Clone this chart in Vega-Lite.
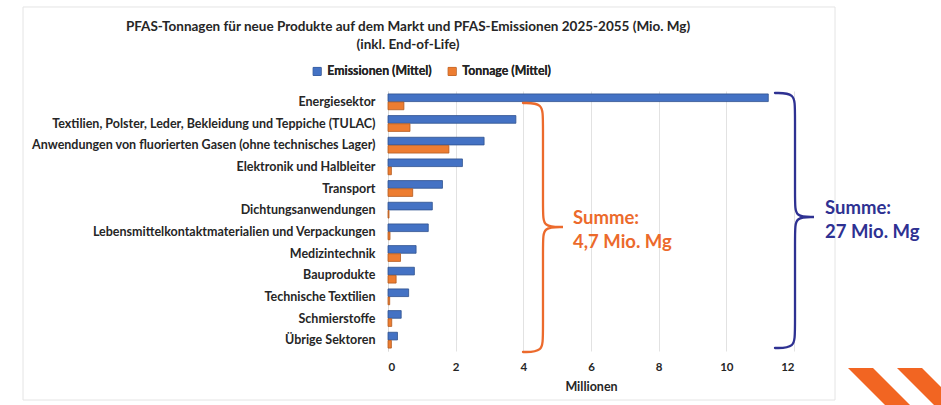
{
  "$schema": "https://vega.github.io/schema/vega-lite/v6.json",
  "width": 406,
  "height": 260,
  "autosize": {"type": "none"},
  "padding": {"left": 388, "top": 91, "right": 147, "bottom": 54},
  "background": "white",
  "title": {
    "text": ["PFAS-Tonnagen für neue Produkte auf dem Markt und PFAS-Emissionen 2025-2055 (Mio. Mg)", "(inkl. End-of-Life)"],
    "anchor": "middle",
    "frame": "group",
    "dx": -183,
    "offset": -45,
    "font": "Lato",
    "fontWeight": "bold",
    "fontSize": 13.5,
    "lineHeight": 18,
    "color": "#262626"
  },
  "datasets": {
    "bars": [
      {"sektor": "Energiesektor", "serie": "Emissionen (Mittel)", "wert": 11.24},
      {"sektor": "Energiesektor", "serie": "Tonnage (Mittel)", "wert": 0.47},
      {"sektor": "Textilien, Polster, Leder, Bekleidung und Teppiche (TULAC)", "serie": "Emissionen (Mittel)", "wert": 3.78},
      {"sektor": "Textilien, Polster, Leder, Bekleidung und Teppiche (TULAC)", "serie": "Tonnage (Mittel)", "wert": 0.65},
      {"sektor": "Anwendungen von fluorierten Gasen (ohne technisches Lager)", "serie": "Emissionen (Mittel)", "wert": 2.84},
      {"sektor": "Anwendungen von fluorierten Gasen (ohne technisches Lager)", "serie": "Tonnage (Mittel)", "wert": 1.8},
      {"sektor": "Elektronik und Halbleiter", "serie": "Emissionen (Mittel)", "wert": 2.2},
      {"sektor": "Elektronik und Halbleiter", "serie": "Tonnage (Mittel)", "wert": 0.1},
      {"sektor": "Transport", "serie": "Emissionen (Mittel)", "wert": 1.61},
      {"sektor": "Transport", "serie": "Tonnage (Mittel)", "wert": 0.73},
      {"sektor": "Dichtungsanwendungen", "serie": "Emissionen (Mittel)", "wert": 1.31},
      {"sektor": "Dichtungsanwendungen", "serie": "Tonnage (Mittel)", "wert": 0.03},
      {"sektor": "Lebensmittelkontaktmaterialien und Verpackungen", "serie": "Emissionen (Mittel)", "wert": 1.19},
      {"sektor": "Lebensmittelkontaktmaterialien und Verpackungen", "serie": "Tonnage (Mittel)", "wert": 0.06},
      {"sektor": "Medizintechnik", "serie": "Emissionen (Mittel)", "wert": 0.83},
      {"sektor": "Medizintechnik", "serie": "Tonnage (Mittel)", "wert": 0.37},
      {"sektor": "Bauprodukte", "serie": "Emissionen (Mittel)", "wert": 0.78},
      {"sektor": "Bauprodukte", "serie": "Tonnage (Mittel)", "wert": 0.24},
      {"sektor": "Technische Textilien", "serie": "Emissionen (Mittel)", "wert": 0.61},
      {"sektor": "Technische Textilien", "serie": "Tonnage (Mittel)", "wert": 0.05},
      {"sektor": "Schmierstoffe", "serie": "Emissionen (Mittel)", "wert": 0.39},
      {"sektor": "Schmierstoffe", "serie": "Tonnage (Mittel)", "wert": 0.11},
      {"sektor": "Übrige Sektoren", "serie": "Emissionen (Mittel)", "wert": 0.28},
      {"sektor": "Übrige Sektoren", "serie": "Tonnage (Mittel)", "wert": 0.1}
    ],
    "braces": [
      {"klammer": "tonnage", "i": 1, "x": 3.990, "r": 0.554},
      {"klammer": "tonnage", "i": 2, "x": 4.581, "r": 0.554},
      {"klammer": "tonnage", "i": 3, "x": 4.581, "r": 1.338},
      {"klammer": "tonnage", "i": 4, "x": 4.581, "r": 5.585},
      {"klammer": "tonnage", "i": 5, "x": 4.581, "r": 6.277},
      {"klammer": "tonnage", "i": 6, "x": 5.172, "r": 6.277},
      {"klammer": "tonnage", "i": 7, "x": 5.172, "r": 6.277},
      {"klammer": "tonnage", "i": 8, "x": 5.172, "r": 6.277},
      {"klammer": "tonnage", "i": 9, "x": 4.581, "r": 6.277},
      {"klammer": "tonnage", "i": 10, "x": 4.581, "r": 6.969},
      {"klammer": "tonnage", "i": 11, "x": 4.581, "r": 11.262},
      {"klammer": "tonnage", "i": 12, "x": 4.581, "r": 12.046},
      {"klammer": "tonnage", "i": 13, "x": 3.990, "r": 12.046},
      {"klammer": "emission", "i": 1, "x": 11.438, "r": 0.092},
      {"klammer": "emission", "i": 2, "x": 12.030, "r": 0.092},
      {"klammer": "emission", "i": 3, "x": 12.030, "r": 0.877},
      {"klammer": "emission", "i": 4, "x": 12.030, "r": 5.123},
      {"klammer": "emission", "i": 5, "x": 12.030, "r": 5.815},
      {"klammer": "emission", "i": 6, "x": 12.591, "r": 5.815},
      {"klammer": "emission", "i": 7, "x": 12.591, "r": 5.815},
      {"klammer": "emission", "i": 8, "x": 12.591, "r": 5.815},
      {"klammer": "emission", "i": 9, "x": 12.030, "r": 5.815},
      {"klammer": "emission", "i": 10, "x": 12.030, "r": 6.508},
      {"klammer": "emission", "i": 11, "x": 12.030, "r": 11.077},
      {"klammer": "emission", "i": 12, "x": 12.030, "r": 11.862},
      {"klammer": "emission", "i": 13, "x": 11.438, "r": 11.862}
    ],
    "labels": [
      {"klammer": "tonnage", "t": "Summe:", "x": 5.468, "r": 5.862},
      {"klammer": "tonnage", "t": "4,7 Mio. Mg", "x": 5.468, "r": 6.969},
      {"klammer": "emission", "t": "Summe:", "x": 12.916, "r": 5.400},
      {"klammer": "emission", "t": "27 Mio. Mg", "x": 12.916, "r": 6.508}
    ],
    "frame": [
      {"x1": -10.788, "x2": 13.212, "r1": -3.877, "r2": 14.262}
    ],
    "deko": [
      {"x": 14.852, "r": 14.746},
      {"x": 16.300, "r": 14.746}
    ]
  },
  "layer": [
    {
      "data": {"name": "frame"},
      "mark": {"type": "rect", "fill": null, "stroke": "#e4e4e4", "strokeWidth": 1},
      "encoding": {
        "x": {"field": "x1", "type": "quantitative", "scale": {"domain": [0, 12], "nice": false}},
        "x2": {"field": "x2"},
        "y": {"field": "r1", "type": "quantitative", "scale": {"domain": [0, 12], "reverse": true, "nice": false, "zero": false}, "axis": null},
        "y2": {"field": "r2"}
      }
    },
    {
      "data": {"name": "bars"},
      "mark": {"type": "bar", "strokeWidth": 0.8},
      "encoding": {
        "y": {
          "field": "sektor", "type": "nominal", "sort": null,
          "scale": {"paddingInner": 0.27, "paddingOuter": 0.135},
          "axis": {"title": null, "ticks": false, "labelPadding": 13, "labelFont": "Lato", "labelFontWeight": "bold", "labelFontSize": 12.5, "labelColor": "#262626", "domain": true, "domainColor": "#d9d9d9", "labelLimit": 400}
        },
        "yOffset": {"field": "serie", "type": "nominal", "sort": ["Emissionen (Mittel)", "Tonnage (Mittel)"], "scale": {"paddingInner": 0.06}},
        "x": {
          "field": "wert", "type": "quantitative",
          "scale": {"domain": [0, 12], "nice": false},
          "axis": {"values": [0, 2, 4, 6, 8, 10, 12], "grid": true, "gridColor": "#e2e2e2", "domain": false, "ticks": false, "labelPadding": 10, "labelFont": "Lato", "labelFontWeight": "bold", "labelFontSize": 11.5, "labelColor": "#262626", "title": "Millionen", "titleFont": "Lato", "titleFontWeight": "bold", "titleFontSize": 12.5, "titleColor": "#262626", "titlePadding": 8}
        },
        "color": {
          "field": "serie", "type": "nominal",
          "scale": {"domain": ["Emissionen (Mittel)", "Tonnage (Mittel)"], "range": ["#4472C4", "#ED7D31"]},
          "legend": {"title": null, "orient": "none", "legendX": -77, "legendY": -26, "direction": "horizontal", "labelFontSize": 12.3}
        },
        "stroke": {
          "field": "serie", "type": "nominal",
          "scale": {"domain": ["Emissionen (Mittel)", "Tonnage (Mittel)"], "range": ["#2F528F", "#B35A1F"]},
          "legend": {"title": null, "orient": "none", "legendX": -77, "legendY": -26, "direction": "horizontal", "labelFontSize": 12.3}
        }
      }
    },
    {
      "data": {"name": "braces"},
      "transform": [{"filter": "datum.klammer === 'tonnage'"}],
      "mark": {"type": "line", "interpolate": "basis", "color": "#EC6A2C", "strokeWidth": 2.3, "strokeCap": "round"},
      "encoding": {
        "x": {"field": "x", "type": "quantitative", "scale": {"domain": [0, 12], "nice": false}},
        "y": {"field": "r", "type": "quantitative", "scale": {"domain": [0, 12], "reverse": true, "nice": false, "zero": false}, "axis": null},
        "order": {"field": "i", "type": "quantitative"}
      }
    },
    {
      "data": {"name": "braces"},
      "transform": [{"filter": "datum.klammer === 'emission'"}],
      "mark": {"type": "line", "interpolate": "basis", "color": "#2E3192", "strokeWidth": 2.3, "strokeCap": "round"},
      "encoding": {
        "x": {"field": "x", "type": "quantitative", "scale": {"domain": [0, 12], "nice": false}},
        "y": {"field": "r", "type": "quantitative", "scale": {"domain": [0, 12], "reverse": true, "nice": false, "zero": false}, "axis": null},
        "order": {"field": "i", "type": "quantitative"}
      }
    },
    {
      "data": {"name": "labels"},
      "mark": {"type": "text", "align": "left", "baseline": "middle", "font": "Lato", "fontWeight": "bold", "fontSize": 18.5},
      "encoding": {
        "x": {"field": "x", "type": "quantitative", "scale": {"domain": [0, 12], "nice": false}},
        "y": {"field": "r", "type": "quantitative", "scale": {"domain": [0, 12], "reverse": true, "nice": false, "zero": false}, "axis": null},
        "text": {"field": "t"},
        "color": {"condition": {"test": "datum.klammer === 'tonnage'", "value": "#EC6A2C"}, "value": "#2E3192"}
      }
    },
    {
      "data": {"name": "deko"},
      "mark": {"type": "point", "shape": "M-1,-1L-0.412,-1L1,0.412L0.412,0.412Z", "size": 7225, "filled": true, "color": "#F26522", "opacity": 1, "strokeWidth": 0},
      "encoding": {
        "x": {"field": "x", "type": "quantitative", "scale": {"domain": [0, 12], "nice": false}},
        "y": {"field": "r", "type": "quantitative", "scale": {"domain": [0, 12], "reverse": true, "nice": false, "zero": false}, "axis": null}
      }
    }
  ],
  "resolve": {"scale": {"y": "independent", "color": "independent"}, "axis": {"y": "independent"}},
  "config": {
    "view": {"stroke": null},
    "legend": {"symbolType": "square", "symbolSize": 64, "symbolStrokeWidth": 1, "labelFont": "Lato", "labelFontWeight": "bold", "labelFontSize": 12.3, "labelColor": "#262626", "columnPadding": 14, "labelOffset": 4, "padding": 0}
  }
}
